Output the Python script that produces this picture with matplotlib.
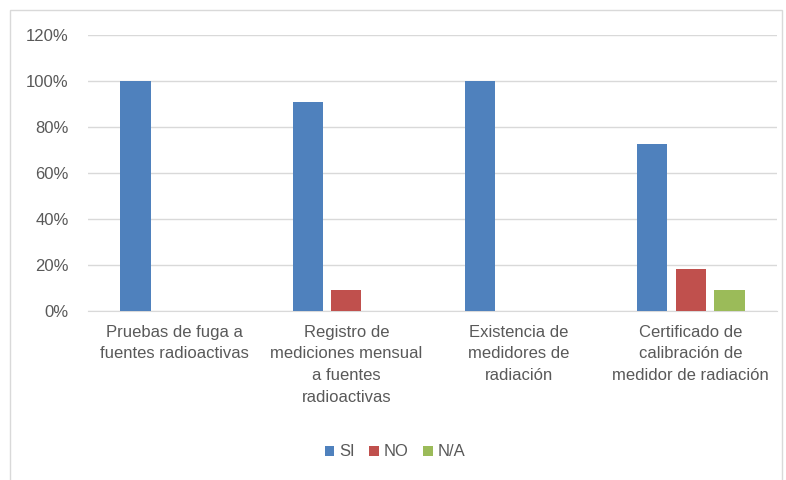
import matplotlib.pyplot as plt
import numpy as np
from matplotlib.patches import Rectangle
from matplotlib.ticker import PercentFormatter

plt.rcParams['font.family'] = ['Liberation Sans Narrow', 'Liberation Sans', 'DejaVu Sans']

categorias = ['Pruebas de fuga a\nfuentes radioactivas',
              'Registro de\nmediciones mensual\na fuentes\nradioactivas',
              'Existencia de\nmedidores de\nradiación',
              'Certificado de\ncalibración de\nmedidor de radiación']
si = [1.0, 0.909, 1.0, 0.727]
no = [0.0, 0.091, 0.0, 0.182]
na = [0.0, 0.0, 0.0, 0.091]
series = ['SI', 'NO', 'N/A']
colores = ['#4F81BD', '#C0504D', '#9BBB59']
gris = '#595959'

fig = plt.figure(figsize=(7.86, 4.8), dpi=100)
# marco del grafico
fig.patches.append(Rectangle((10 / 786, -0.02), 772 / 786, 1 - 10 / 480 + 0.02,
                             transform=fig.transFigure, fill=False,
                             edgecolor='#D9D9D9', linewidth=1))

ax = fig.add_axes([88 / 786, 1 - 311 / 480, 689 / 786, 276 / 480])
x = np.arange(len(categorias))
ancho = 0.175
paso = 0.224
for i, (vals, nombre, color) in enumerate(zip([si, no, na], series, colores)):
    ax.bar(x + (i - 1) * paso, vals, ancho, color=color, label=nombre, zorder=3)

ax.set_xlim(-0.5, len(categorias) - 0.5)
ax.set_ylim(0, 1.2)
ax.set_yticks(np.arange(0, 1.21, 0.2))
ax.yaxis.set_major_formatter(PercentFormatter(1.0, decimals=0))
ax.grid(axis='y', color='#D9D9D9', linewidth=1, zorder=0)
for s in ['top', 'right', 'left']:
    ax.spines[s].set_visible(False)
ax.spines['bottom'].set_color('#D9D9D9')
ax.tick_params(axis='both', length=0, colors=gris, labelsize=12)
ax.tick_params(axis='y', pad=14)
ax.set_xticks(x)
ax.set_xticklabels(categorias, linespacing=1.55)
ax.tick_params(axis='x', pad=10)

leg = fig.legend(loc='center', bbox_to_anchor=(395 / 786, 1 - 452 / 480), ncol=3,
                 frameon=False, fontsize=12, handlelength=0.55, handleheight=0.55,
                 handletextpad=0.3, columnspacing=0.9)
for t in leg.get_texts():
    t.set_color(gris)

plt.savefig('out.png', dpi=100)
plt.close()
